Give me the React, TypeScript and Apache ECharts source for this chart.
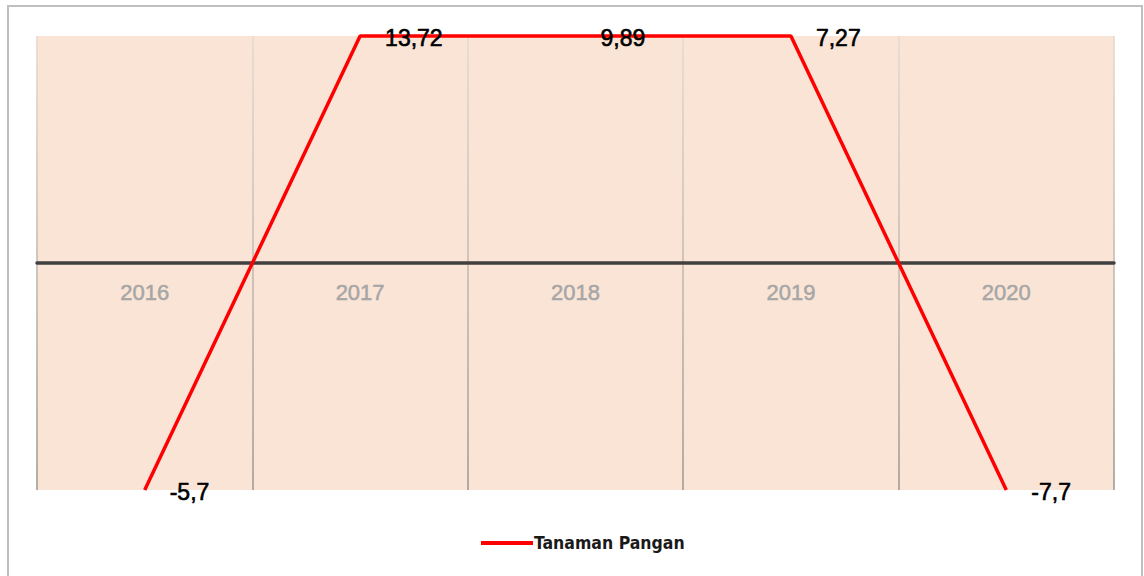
import React, { useEffect, useRef } from "react";
import * as echarts from "echarts";

const categories = ["2016", "2017", "2018", "2019", "2020"];
const seriesName = "Tanaman Pangan";
const values = [-5.7, 13.72, 9.89, 7.27, -7.7];
// The value axis is fixed; values beyond it are drawn at the plot edge (as in the source chart)
const Y_MIN = -5;
const Y_MAX = 5;

export default function App() {
  const ref = useRef<HTMLDivElement>(null);
  useEffect(() => {
    if (!ref.current) return;
    const chart = echarts.init(ref.current, undefined, { renderer: "svg" });
    const clamped = values.map((v) => Math.max(Y_MIN, Math.min(Y_MAX, v)));
    chart.setOption({
      animation: false,
      backgroundColor: "#ffffff",
      grid: {
        left: 37,
        right: 30,
        top: 36,
        bottom: 86,
        show: true,
        backgroundColor: "#FAE4D6",
        borderWidth: 0,
      },
      legend: {
        data: [{ name: seriesName, icon: "rect" }],
        left: 476,
        top: 529,
        itemWidth: 52,
        itemHeight: 4,
        itemGap: 10,
        textStyle: {
          fontFamily: "'DejaVu Sans Condensed', sans-serif",
          fontWeight: "bold",
          fontSize: 17.5,
          color: "#1a1a1a",
          padding: [0, 0, 0, -4],
        },
      },
      xAxis: {
        type: "category",
        data: categories,
        boundaryGap: true,
        axisLine: { show: true, onZero: true, lineStyle: { color: "#404040", width: 3.5 } },
        axisTick: { show: false },
        axisLabel: {
          color: "#A6A6A6",
          fontSize: 22,
          fontFamily: "'Liberation Sans', Arial, sans-serif",
          textBorderColor: "#A6A6A6",
          textBorderWidth: 0.5,
          margin: -209,
        },
        splitLine: {
          show: true,
          lineStyle: {
            width: 1.6,
            color: new echarts.graphic.LinearGradient(
              0, 36, 0, 490,
              [
                { offset: 0, color: "#E6DAD0" },
                { offset: 1, color: "#A39B95" },
              ],
              true
            ),
          },
        },
      },
      yAxis: {
        type: "value",
        min: Y_MIN,
        max: Y_MAX,
        show: false,
        splitLine: { show: false },
      },
      series: [
        {
          name: seriesName,
          type: "line",
          data: clamped,
          symbol: "circle",
          symbolSize: 0.01,
          showSymbol: true,
          clip: false,
          lineStyle: { color: "#FF0000", width: 3.5 },
          itemStyle: { color: "#FF0000" },
          label: {
            show: true,
            position: "right",
            distance: 25,
            offset: [0, 2],
            color: "#000000",
            fontSize: 23,
            fontFamily: "'Liberation Sans', Arial, sans-serif",
            textBorderColor: "#000000",
            textBorderWidth: 0.6,
            formatter: (p: any) => String(values[p.dataIndex]).replace(".", ","),
          },
        },
      ],
      graphic: [
        {
          type: "rect",
          shape: { x: 8, y: 6, width: 1134, height: 580 },
          style: { fill: "none", stroke: "#BFBFBF", lineWidth: 2 },
          silent: true,
        },
      ],
    });
    return () => chart.dispose();
  }, []);
  return (
    <div
      ref={ref}
      style={{ position: "fixed", left: 0, top: 0, width: 1144, height: 576 }}
    />
  );
}
